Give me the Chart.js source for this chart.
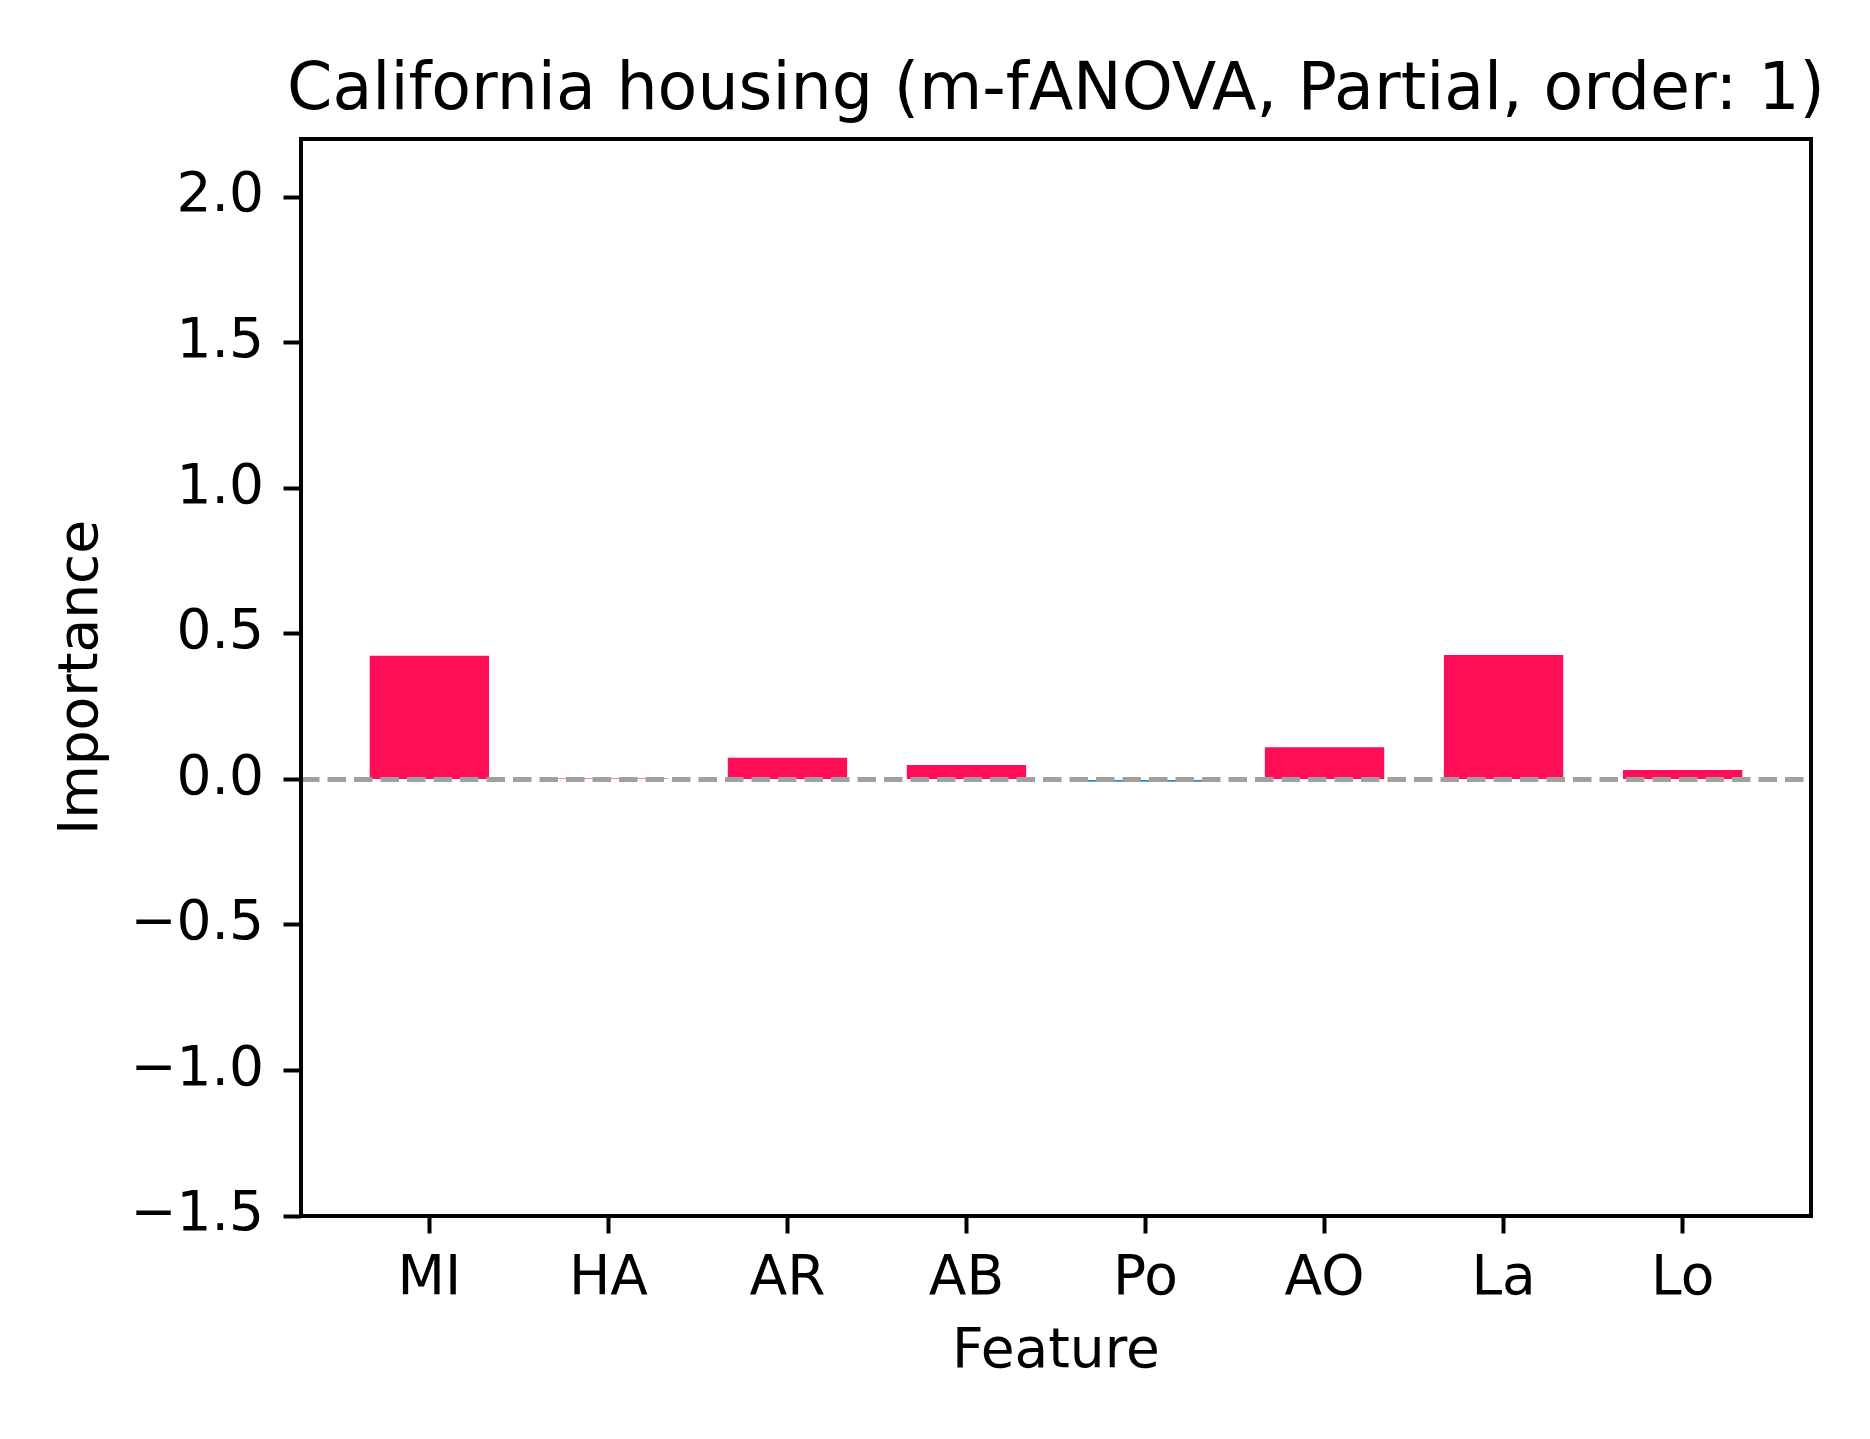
<!DOCTYPE html>
<html>
<head>
<meta charset="utf-8">
<script src="https://cdn.jsdelivr.net/npm/chart.js@4/dist/chart.umd.min.js"></script>
<style>
  html, body { margin: 0; padding: 0; background: #ffffff; }
  #wrap { width: 1870px; height: 1439px; }
</style>
</head>
<body>
<div id="wrap"><canvas id="c" width="1870" height="1439"></canvas></div>
<script>
// ---- data ----
const titleText = 'California housing (m-fANOVA, Partial, order: 1)';
const xAxisLabel = 'Feature';
const yAxisLabel = 'Importance';
const categories = ['MI', 'HA', 'AR', 'AB', 'Po', 'AO', 'La', 'Lo'];
const importance = [0.425, 0.003, 0.074, 0.049, -0.008, 0.110, 0.427, 0.032];
const yTicks = [-1.5, -1.0, -0.5, 0.0, 0.5, 1.0, 1.5, 2.0];
const yMin = -1.5;
const yMax = 2.2;
const xMin = -0.717;
const xMax = 7.717;
const zeroLine = [0, 0];

// ---- styles ----
const POS_COLOR = '#ff0d57';
const NEG_COLOR = '#1e88e5';
const FONT = 'DejaVu Sans';

const barData = categories.map((c, i) => ({ x: i, y: importance[i] }));
const barColors = importance.map(v => (v >= 0 ? POS_COLOR : NEG_COLOR));
const lineData = [{ x: xMin, y: zeroLine[0] }, { x: xMax, y: zeroLine[1] }];

// frame around the axes + title centred over the axes (as matplotlib does)
const framePlugin = {
  id: 'frame',
  afterDraw(chart) {
    const { ctx, chartArea: a } = chart;
    ctx.save();
    ctx.strokeStyle = '#000000';
    ctx.lineWidth = 4;
    ctx.strokeRect(a.left, a.top, a.right - a.left, a.bottom - a.top);
    ctx.fillStyle = '#000000';
    ctx.font = '65px "' + FONT + '"';
    ctx.textAlign = 'center';
    ctx.textBaseline = 'alphabetic';
    ctx.fillText(titleText, (a.left + a.right) / 2, a.top - 30);
    ctx.restore();
  }
};

const fmt = v => {
  const s = Math.abs(v).toFixed(1);
  return v < 0 ? '\u2212' + s : s;
};

new Chart(document.getElementById('c'), {
  type: 'bar',
  data: {
    datasets: [
      {
        type: 'line',
        data: lineData,
        borderColor: '#a0a0a0',
        borderWidth: 5,
        borderDash: [18.5, 8],
        pointRadius: 0,
        fill: false,
        order: 1
      },
      {
        type: 'bar',
        data: barData,
        backgroundColor: barColors,
        borderWidth: 0,
        barPercentage: 1.0,
        categoryPercentage: 2 / 3,
        order: 2
      }
    ]
  },
  plugins: [framePlugin],
  options: {
    responsive: false,
    animation: false,
    devicePixelRatio: 1,
    layout: { padding: { left: 0, right: 59, top: 139, bottom: 0 } },
    plugins: {
      legend: { display: false },
      tooltip: { enabled: false },
      title: { display: false }
    },
    scales: {
      x: {
        type: 'linear',
        position: 'bottom',
        offset: false,
        min: xMin,
        max: xMax,
        afterBuildTicks: (scale) => { scale.ticks = categories.map((c, i) => ({ value: i })); },
        afterFit: (scale) => { scale.height = 223; },
        ticks: {
          autoSkip: false,
          maxRotation: 0,
          minRotation: 0,
          padding: 13,
          color: '#000000',
          font: { family: FONT, size: 55 },
          callback: (v) => categories[v] ?? ''
        },
        grid: {
          display: true,
          offset: false,
          drawOnChartArea: false,
          drawTicks: true,
          tickLength: 17.5,
          tickWidth: 4,
          tickColor: '#000000',
          color: '#000000'
        },
        border: { display: false },
        title: {
          display: true,
          text: xAxisLabel,
          color: '#000000',
          font: { family: FONT, size: 55 },
          padding: { top: 0, bottom: 53 }
        }
      },
      y: {
        type: 'linear',
        position: 'left',
        min: yMin,
        max: yMax,
        afterBuildTicks: (scale) => { scale.ticks = yTicks.map(v => ({ value: v })); },
        afterFit: (scale) => { scale.width = 301; },
        ticks: {
          padding: 19.5,
          color: '#000000',
          font: { family: FONT, size: 55 },
          callback: (v) => fmt(v)
        },
        grid: {
          display: true,
          drawOnChartArea: false,
          drawTicks: true,
          tickLength: 17.5,
          tickWidth: 4,
          tickColor: '#000000',
          color: '#000000'
        },
        border: { display: false },
        title: {
          display: true,
          text: yAxisLabel,
          color: '#000000',
          font: { family: FONT, size: 55 },
          padding: { top: 50, bottom: 0 }
        }
      }
    }
  }
});
</script>
</body>
</html>
